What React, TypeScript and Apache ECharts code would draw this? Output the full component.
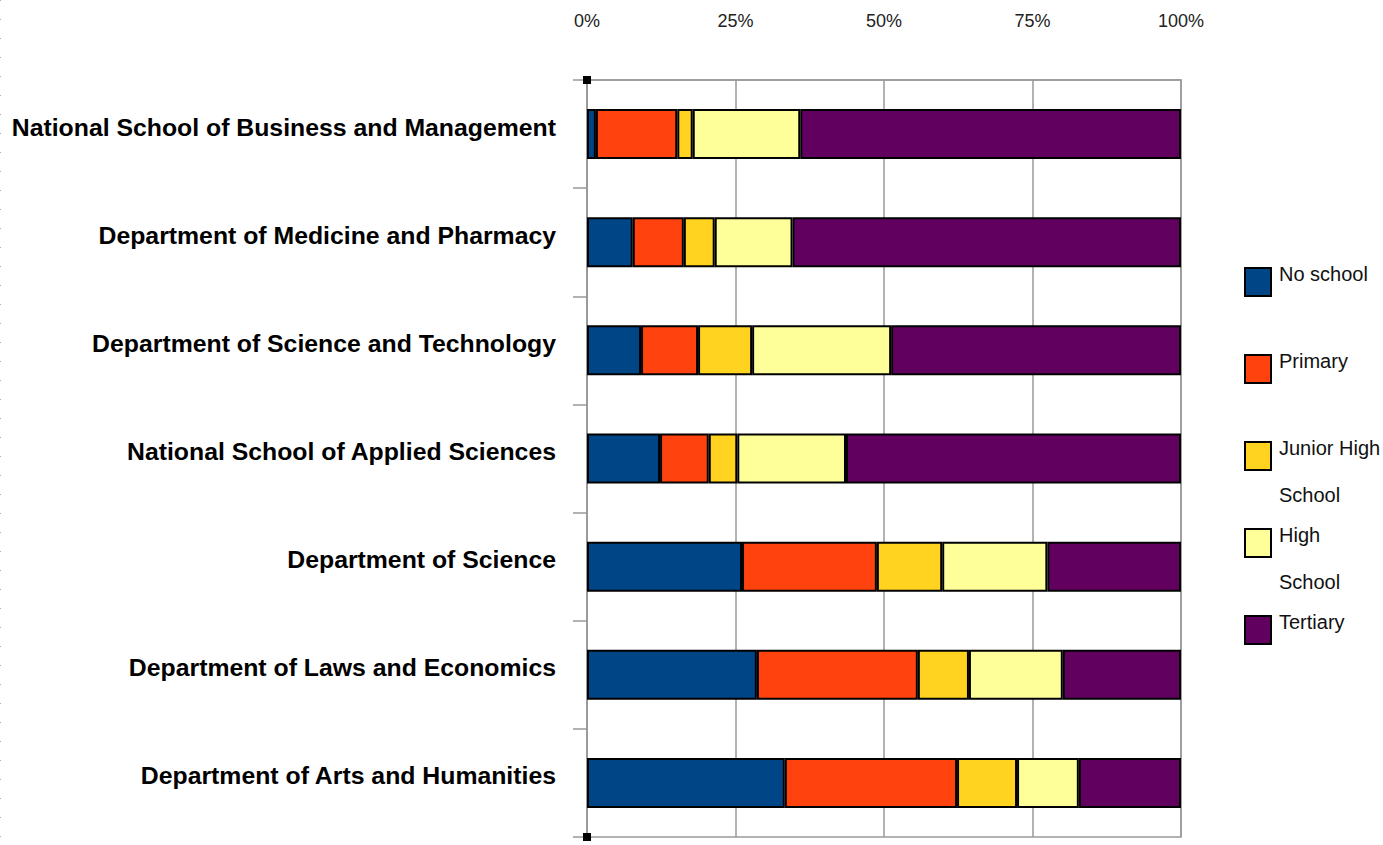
import React, { useEffect, useRef } from "react";
import * as echarts from "echarts";

const categories = [
  "National School of Business and Management",
  "Department of Medicine and Pharmacy",
  "Department of Science and Technology",
  "National School of Applied Sciences",
  "Department of Science",
  "Department of Laws and Economics",
  "Department of Arts and Humanities",
];
const seriesNames = ["No school", "Primary", "Junior High School", "High School", "Tertiary"];
const legendLines = [["No school"], ["Primary"], ["Junior High", "School"], ["High", "School"], ["Tertiary"]];
const noSchool = [1.5, 7.7, 9.1, 12.3, 26.1, 28.6, 33.3];
const primary = [13.7, 8.6, 9.6, 8.2, 22.7, 27.1, 29.0];
const juniorHigh = [2.6, 5.2, 9.1, 4.8, 11.0, 8.6, 10.1];
const highSchool = [18.1, 13.1, 23.4, 18.3, 17.7, 15.8, 10.4];
const tertiary = [64.1, 65.4, 48.8, 56.4, 22.5, 19.9, 17.2];
const xTicks = [0, 25, 50, 75, 100];
const colors = ["#004586", "#ff420e", "#ffd320", "#ffff99", "#620060"];

export default function App() {
  const ref = useRef<HTMLDivElement>(null);
  useEffect(() => {
    if (!ref.current) return;
    const chart = echarts.init(ref.current, undefined, { renderer: "svg" });
    const values = [noSchool, primary, juniorHigh, highSchool, tertiary];
    const legendTops = [267, 354, 441, 528, 615];
    const font = "Liberation Sans, Arial, sans-serif";
    const legends = seriesNames.map((n, i) => ({
      data: [n],
      orient: "vertical",
      left: 1244,
      top: legendTops[i],
      padding: 0,
      itemWidth: 26,
      itemHeight: 28,
      icon: "rect",
      selectedMode: false,
      formatter: () => "",
    }));
    const legendTexts: any[] = [];
    legendLines.forEach((lines, i) => {
      lines.forEach((t, j) => {
        legendTexts.push({
          type: "text",
          x: 1279,
          y: legendTops[i] + 7 + j * 47,
          style: {
            text: t,
            fill: "#111",
            font: `20px ${font}`,
            textVerticalAlign: "middle",
            verticalAlign: "middle",
          },
        });
      });
    });
    chart.setOption({
      animation: false,
      backgroundColor: "#fff",
      grid: {
        left: 587,
        top: 80,
        width: 594,
        height: 757,
        show: true,
        borderColor: "#999",
        borderWidth: 1.5,
      },
      legend: legends,
      xAxis: {
        type: "value",
        position: "top",
        min: xTicks[0],
        max: xTicks[xTicks.length - 1],
        interval: 25,
        axisLine: { show: true, lineStyle: { color: "#999", width: 1.5 } },
        axisTick: { show: false },
        splitLine: { show: true, lineStyle: { color: "#999", width: 1.5 } },
        axisLabel: {
          formatter: "{value}%",
          margin: 50,
          fontFamily: font,
          fontSize: 18,
          color: "#222",
        },
      },
      yAxis: {
        type: "category",
        inverse: true,
        data: categories,
        axisLine: { show: true, lineStyle: { color: "#999", width: 1.5 } },
        axisTick: { show: true, length: 14, lineStyle: { color: "#999", width: 1.5 } },
        axisLabel: {
          margin: 31,
          fontFamily: font,
          fontWeight: "bold",
          fontSize: 24.8,
          color: "#000",
          verticalAlign: "bottom",
          lineHeight: 14,
        },
      },
      graphic: [
        { type: "rect", shape: { x: 583, y: 76, width: 8, height: 8 }, style: { fill: "#000" }, z: 100 },
        { type: "rect", shape: { x: 583, y: 833, width: 8, height: 8 }, style: { fill: "#000" }, z: 100 },
        {
          type: "line",
          shape: { x1: 0.5, y1: 0, x2: 0.5, y2: 845 },
          style: { stroke: "#aaa", lineWidth: 1, lineDash: [1, 18] },
        },
        ...legendTexts,
      ],
      series: seriesNames.map((n, i) => ({
        name: n,
        type: "bar",
        stack: "total",
        barWidth: 50,
        data: values[i],
        itemStyle: { color: colors[i], borderColor: "#000", borderWidth: 2 },
      })),
    });
    return () => chart.dispose();
  }, []);
  return (
    <div
      ref={ref}
      style={{ position: "fixed", left: 0, top: 0, width: 1383, height: 845 }}
    />
  );
}
